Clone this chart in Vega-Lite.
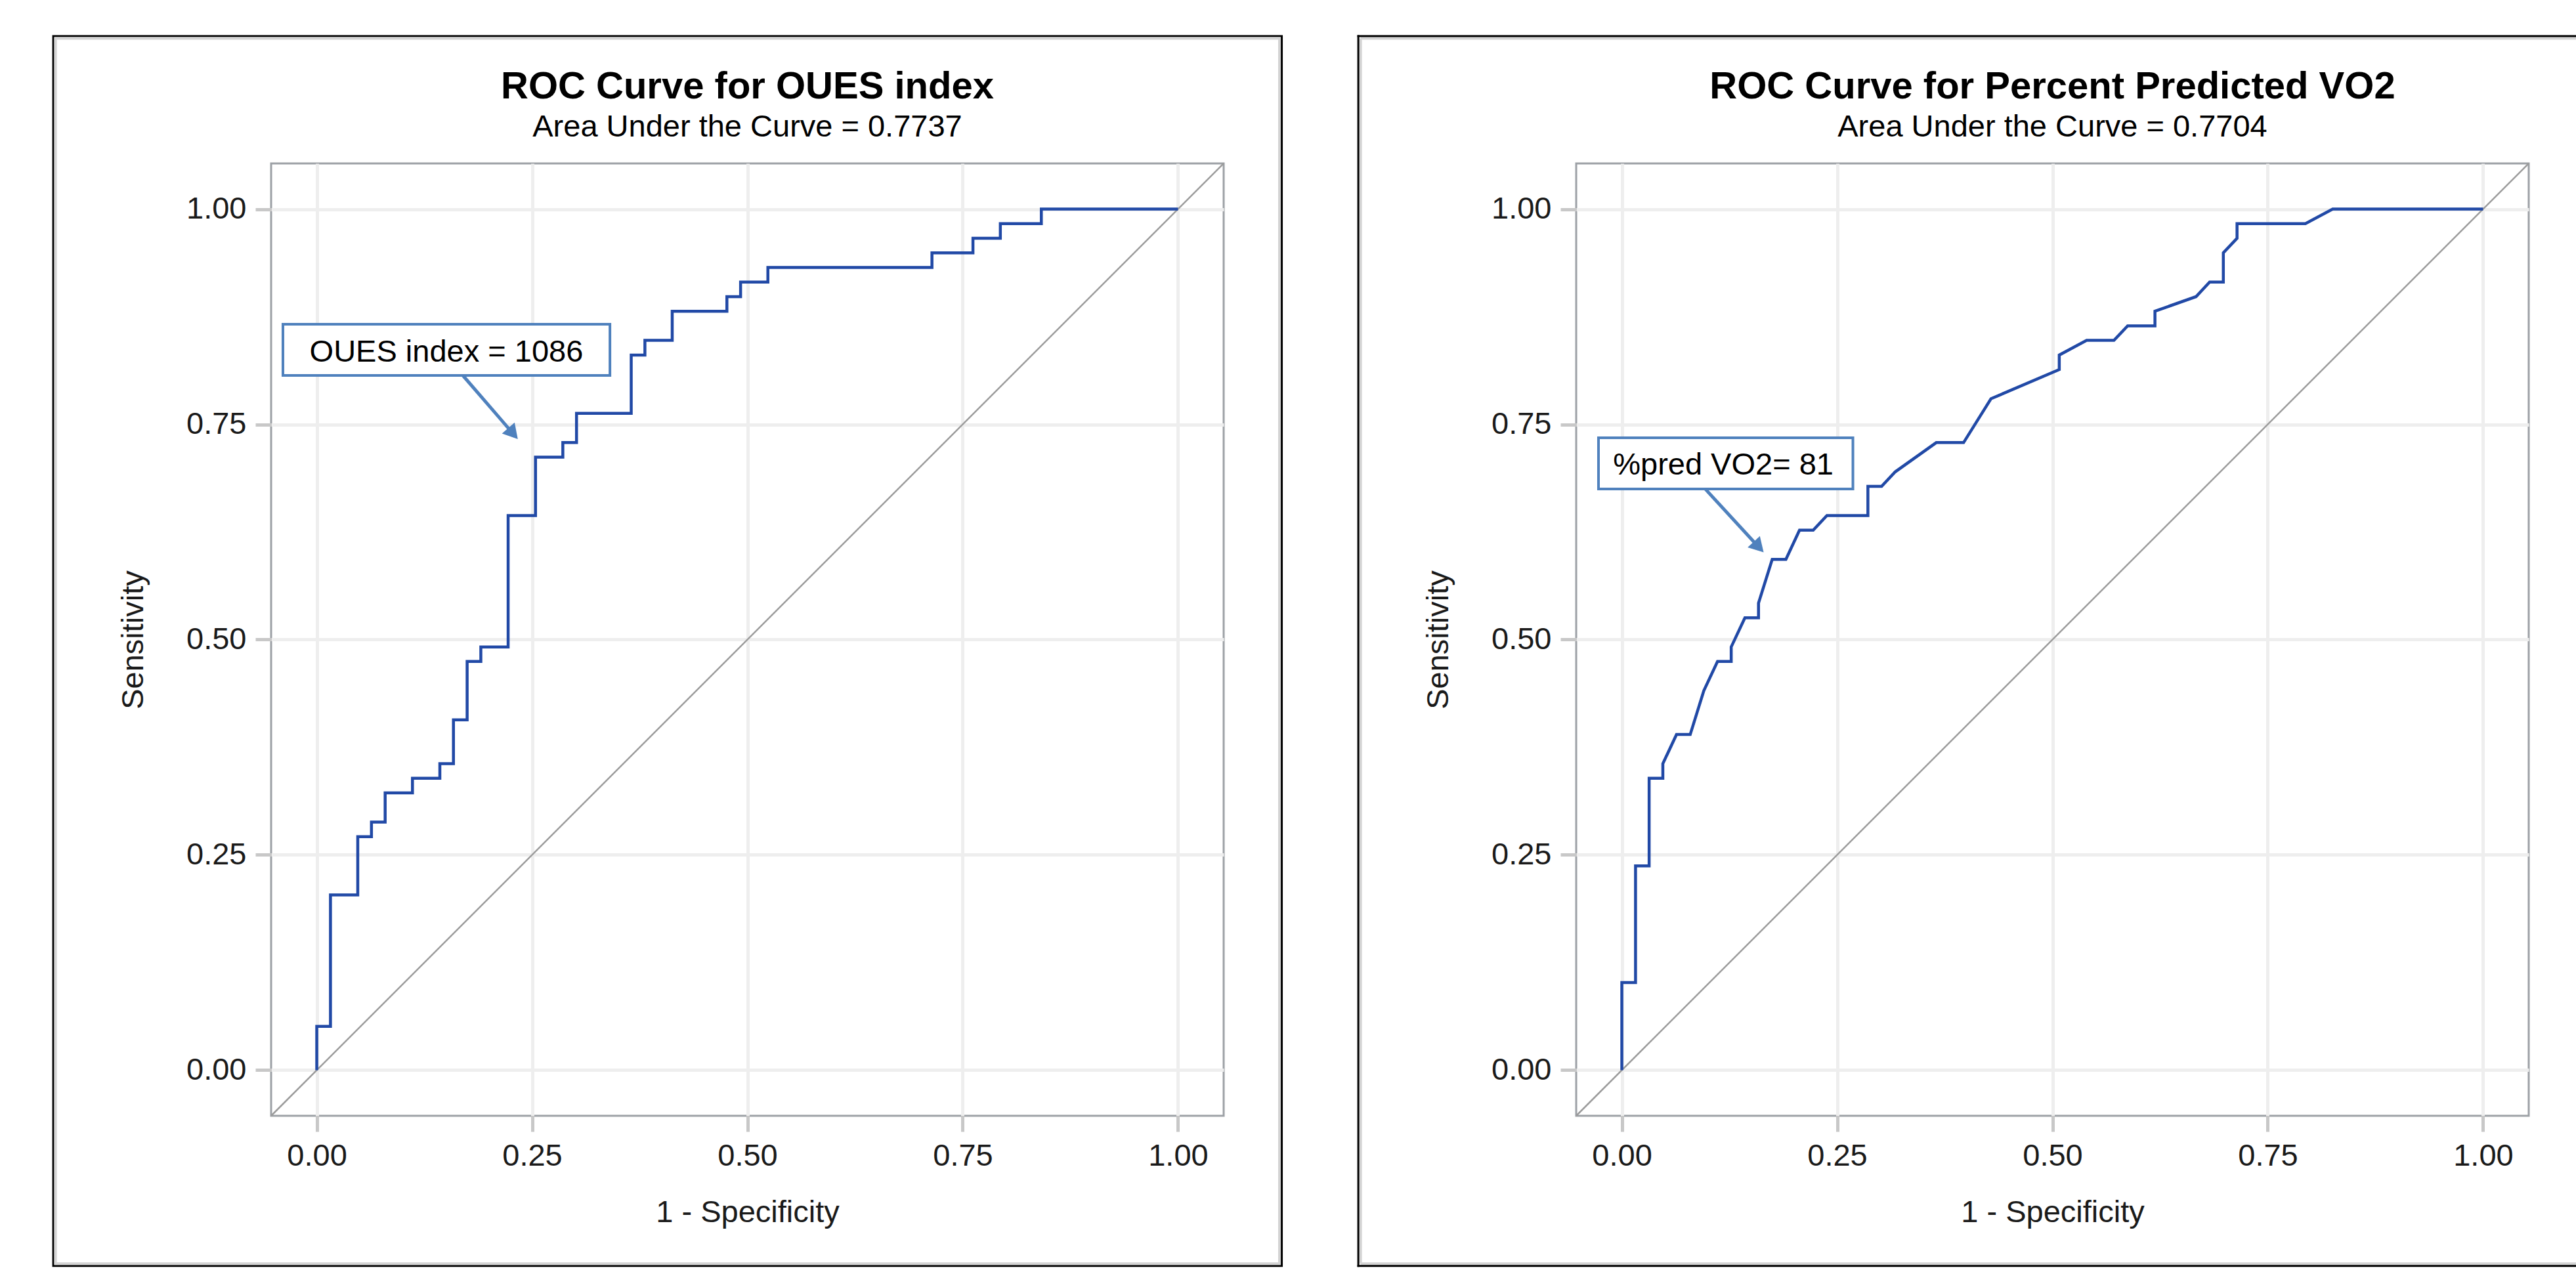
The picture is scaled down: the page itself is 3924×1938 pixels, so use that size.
{
  "$schema": "https://vega.github.io/schema/vega-lite/v6.json",
  "background": "white",
  "padding": {"left": 78, "top": 51, "right": 0, "bottom": 0},
  "spacing": 109,
  "datasets": {
    "single": [{"k": 1}],
    "oues": [{"fpr":0,"sens":0},{"fpr":0,"sens":0.0508},{"fpr":0.0159,"sens":0.0508},{"fpr":0.0159,"sens":0.2034},{"fpr":0.0476,"sens":0.2034},{"fpr":0.0476,"sens":0.2712},{"fpr":0.0635,"sens":0.2712},{"fpr":0.0635,"sens":0.2881},{"fpr":0.0794,"sens":0.2881},{"fpr":0.0794,"sens":0.322},{"fpr":0.1111,"sens":0.322},{"fpr":0.1111,"sens":0.339},{"fpr":0.1429,"sens":0.339},{"fpr":0.1429,"sens":0.3559},{"fpr":0.1587,"sens":0.3559},{"fpr":0.1587,"sens":0.4068},{"fpr":0.1746,"sens":0.4068},{"fpr":0.1746,"sens":0.4746},{"fpr":0.1905,"sens":0.4746},{"fpr":0.1905,"sens":0.4915},{"fpr":0.2222,"sens":0.4915},{"fpr":0.2222,"sens":0.6441},{"fpr":0.254,"sens":0.6441},{"fpr":0.254,"sens":0.7119},{"fpr":0.2857,"sens":0.7119},{"fpr":0.2857,"sens":0.7288},{"fpr":0.3016,"sens":0.7288},{"fpr":0.3016,"sens":0.7627},{"fpr":0.3651,"sens":0.7627},{"fpr":0.3651,"sens":0.8305},{"fpr":0.381,"sens":0.8305},{"fpr":0.381,"sens":0.8475},{"fpr":0.4127,"sens":0.8475},{"fpr":0.4127,"sens":0.8814},{"fpr":0.4762,"sens":0.8814},{"fpr":0.4762,"sens":0.8983},{"fpr":0.4921,"sens":0.8983},{"fpr":0.4921,"sens":0.9153},{"fpr":0.5238,"sens":0.9153},{"fpr":0.5238,"sens":0.9322},{"fpr":0.7143,"sens":0.9322},{"fpr":0.7143,"sens":0.9492},{"fpr":0.7619,"sens":0.9492},{"fpr":0.7619,"sens":0.9661},{"fpr":0.7937,"sens":0.9661},{"fpr":0.7937,"sens":0.9831},{"fpr":0.8413,"sens":0.9831},{"fpr":0.8413,"sens":1},{"fpr":1,"sens":1}],
    "vo2": [{"fpr":0,"sens":0},{"fpr":0,"sens":0.1017},{"fpr":0.0159,"sens":0.1017},{"fpr":0.0159,"sens":0.2373},{"fpr":0.0317,"sens":0.2373},{"fpr":0.0317,"sens":0.339},{"fpr":0.0476,"sens":0.339},{"fpr":0.0476,"sens":0.3559},{"fpr":0.0635,"sens":0.3898},{"fpr":0.0794,"sens":0.3898},{"fpr":0.0952,"sens":0.4407},{"fpr":0.1111,"sens":0.4746},{"fpr":0.127,"sens":0.4746},{"fpr":0.127,"sens":0.4915},{"fpr":0.1429,"sens":0.5254},{"fpr":0.1587,"sens":0.5254},{"fpr":0.1587,"sens":0.5424},{"fpr":0.1746,"sens":0.5932},{"fpr":0.1905,"sens":0.5932},{"fpr":0.2063,"sens":0.6271},{"fpr":0.2222,"sens":0.6271},{"fpr":0.2381,"sens":0.6441},{"fpr":0.2857,"sens":0.6441},{"fpr":0.2857,"sens":0.678},{"fpr":0.3016,"sens":0.678},{"fpr":0.3175,"sens":0.6949},{"fpr":0.3651,"sens":0.7288},{"fpr":0.3968,"sens":0.7288},{"fpr":0.4286,"sens":0.7797},{"fpr":0.5079,"sens":0.8136},{"fpr":0.5079,"sens":0.8305},{"fpr":0.5397,"sens":0.8475},{"fpr":0.5714,"sens":0.8475},{"fpr":0.5873,"sens":0.8644},{"fpr":0.619,"sens":0.8644},{"fpr":0.619,"sens":0.8814},{"fpr":0.6667,"sens":0.8983},{"fpr":0.6825,"sens":0.9153},{"fpr":0.6984,"sens":0.9153},{"fpr":0.6984,"sens":0.9492},{"fpr":0.7143,"sens":0.9661},{"fpr":0.7143,"sens":0.9831},{"fpr":0.7937,"sens":0.9831},{"fpr":0.8254,"sens":1},{"fpr":1,"sens":1}]
  },
  "hconcat": [
    {
      "width": 1451,
      "height": 1451,
      "title": {"text": "ROC Curve for OUES index", "subtitle": "Area Under the Curve = 0.7737"},
      "layer": [
        {"data": {"name": "single"}, "mark": {"type": "rect", "filled": false, "color": "#000000", "strokeWidth": 3}, "encoding": {"x": {"datum": -0.306, "type": "quantitative"}, "x2": {"datum": 1.1205}, "y": {"datum": -0.2273, "type": "quantitative"}, "y2": {"datum": 1.2009}}},
        {"data": {"name": "single"}, "mark": {"type": "rect", "filled": false, "color": "#d4d4d4", "strokeWidth": 4}, "encoding": {"x": {"datum": -0.3033, "type": "quantitative"}, "x2": {"datum": 1.1178}, "y": {"datum": -0.2246, "type": "quantitative"}, "y2": {"datum": 1.1982}}},
        {"data": {"name": "single"}, "mark": {"type": "rule", "color": "#9c9c9c", "strokeWidth": 2.5}, "encoding": {"x": {"datum": -0.053, "type": "quantitative"}, "y": {"datum": -0.053, "type": "quantitative"}, "x2": {"datum": 1.053}, "y2": {"datum": 1.053}}},
        {"data": {"name": "oues"}, "mark": {"type": "line", "color": "#2149a6", "strokeWidth": 4.5, "interpolate": "linear"},
         "encoding": {
           "x": {"field": "fpr", "type": "quantitative", "title": "1 - Specificity", "scale": {"domain": [-0.053, 1.053], "nice": false, "zero": false}, "axis": {"values": [0, 0.25, 0.5, 0.75, 1], "format": ".2f", "titlePadding": 40}},
           "y": {"field": "sens", "type": "quantitative", "title": "Sensitivity", "scale": {"domain": [-0.053, 1.053], "nice": false, "zero": false}, "axis": {"values": [0, 0.25, 0.5, 0.75, 1], "format": ".2f", "titlePadding": 56}},
           "order": {"value": null}
         }},
        {"data": {"name": "single"}, "mark": {"type": "rule", "color": "#4f81bd", "strokeWidth": 5}, "encoding": {"x": {"datum": 0.1696, "type": "quantitative"}, "y": {"datum": 0.8068, "type": "quantitative"}, "x2": {"datum": 0.2279}, "y2": {"datum": 0.7393}}},
        {"data": {"name": "single"}, "mark": {"type": "point", "shape": "triangle-up", "filled": true, "color": "#4f81bd", "size": 650, "angle": 139, "opacity": 1}, "encoding": {"x": {"datum": 0.2279, "type": "quantitative"}, "y": {"datum": 0.7393, "type": "quantitative"}}},
        {"data": {"name": "single"}, "mark": {"type": "rect", "fill": "white", "stroke": "#4f81bd", "strokeWidth": 4}, "encoding": {"x": {"datum": -0.0393, "type": "quantitative"}, "x2": {"datum": 0.3404}, "y": {"datum": 0.8068, "type": "quantitative"}, "y2": {"datum": 0.8663}}},
        {"data": {"name": "single"}, "mark": {"type": "text", "text": "OUES index = 1086", "font": "Liberation Sans", "fontSize": 47, "color": "#000000", "align": "center", "baseline": "middle"}, "encoding": {"x": {"datum": 0.1505, "type": "quantitative"}, "y": {"datum": 0.8337, "type": "quantitative"}}}
      ]
    },
    {
      "width": 1451,
      "height": 1451,
      "title": {"text": "ROC Curve for Percent Predicted VO2", "subtitle": "Area Under the Curve = 0.7704"},
      "layer": [
        {"data": {"name": "single"}, "mark": {"type": "rule", "color": "#d4d4d4", "strokeWidth": 4}, "encoding": {"x": {"datum": -0.3033, "type": "quantitative"}, "x2": {"datum": 1.1095}, "y": {"datum": 1.1982, "type": "quantitative"}}},
        {"data": {"name": "single"}, "mark": {"type": "rule", "color": "#d4d4d4", "strokeWidth": 4}, "encoding": {"x": {"datum": -0.3033, "type": "quantitative"}, "x2": {"datum": 1.1095}, "y": {"datum": -0.2246, "type": "quantitative"}}},
        {"data": {"name": "single"}, "mark": {"type": "rule", "color": "#d4d4d4", "strokeWidth": 4}, "encoding": {"x": {"datum": -0.3033, "type": "quantitative"}, "y": {"datum": -0.2246, "type": "quantitative"}, "y2": {"datum": 1.1982}}},
        {"data": {"name": "single"}, "mark": {"type": "rule", "color": "#000000", "strokeWidth": 3, "strokeCap": "square"}, "encoding": {"x": {"datum": -0.306, "type": "quantitative"}, "x2": {"datum": 1.1085}, "y": {"datum": 1.2009, "type": "quantitative"}}},
        {"data": {"name": "single"}, "mark": {"type": "rule", "color": "#000000", "strokeWidth": 3, "strokeCap": "square"}, "encoding": {"x": {"datum": -0.306, "type": "quantitative"}, "x2": {"datum": 1.1085}, "y": {"datum": -0.2273, "type": "quantitative"}}},
        {"data": {"name": "single"}, "mark": {"type": "rule", "color": "#000000", "strokeWidth": 3, "strokeCap": "square"}, "encoding": {"x": {"datum": -0.306, "type": "quantitative"}, "y": {"datum": -0.2273, "type": "quantitative"}, "y2": {"datum": 1.2009}}},
        {"data": {"name": "single"}, "mark": {"type": "rule", "color": "#9c9c9c", "strokeWidth": 2.5}, "encoding": {"x": {"datum": -0.053, "type": "quantitative"}, "y": {"datum": -0.053, "type": "quantitative"}, "x2": {"datum": 1.053}, "y2": {"datum": 1.053}}},
        {"data": {"name": "vo2"}, "mark": {"type": "line", "color": "#2149a6", "strokeWidth": 4.5, "interpolate": "linear"},
         "encoding": {
           "x": {"field": "fpr", "type": "quantitative", "title": "1 - Specificity", "scale": {"domain": [-0.053, 1.053], "nice": false, "zero": false}, "axis": {"values": [0, 0.25, 0.5, 0.75, 1], "format": ".2f", "titlePadding": 40}},
           "y": {"field": "sens", "type": "quantitative", "title": "Sensitivity", "scale": {"domain": [-0.053, 1.053], "nice": false, "zero": false}, "axis": {"values": [0, 0.25, 0.5, 0.75, 1], "format": ".2f", "titlePadding": 56}},
           "order": {"value": null}
         }},
        {"data": {"name": "single"}, "mark": {"type": "rule", "color": "#4f81bd", "strokeWidth": 5}, "encoding": {"x": {"datum": 0.0968, "type": "quantitative"}, "y": {"datum": 0.675, "type": "quantitative"}, "x2": {"datum": 0.1589}, "y2": {"datum": 0.6075}}},
        {"data": {"name": "single"}, "mark": {"type": "point", "shape": "triangle-up", "filled": true, "color": "#4f81bd", "size": 650, "angle": 137, "opacity": 1}, "encoding": {"x": {"datum": 0.1589, "type": "quantitative"}, "y": {"datum": 0.6075, "type": "quantitative"}}},
        {"data": {"name": "single"}, "mark": {"type": "rect", "fill": "white", "stroke": "#4f81bd", "strokeWidth": 4}, "encoding": {"x": {"datum": -0.0271, "type": "quantitative"}, "x2": {"datum": 0.2683}, "y": {"datum": 0.675, "type": "quantitative"}, "y2": {"datum": 0.7344}}},
        {"data": {"name": "single"}, "mark": {"type": "text", "text": "%pred VO2= 81", "font": "Liberation Sans", "fontSize": 47, "color": "#000000", "align": "center", "baseline": "middle"}, "encoding": {"x": {"datum": 0.1178, "type": "quantitative"}, "y": {"datum": 0.7026, "type": "quantitative"}}}
      ]
    }
  ],
  "config": {
    "font": "Liberation Sans",
    "view": {"stroke": "#9da1a6", "strokeWidth": 3},
    "axis": {
      "labelFont": "Liberation Sans", "labelFontSize": 47, "labelColor": "#1a1a1a", "labelPadding": 14, "labelFlush": false, "labelOverlap": false,
      "titleFont": "Liberation Sans", "titleFontSize": 47, "titleFontWeight": "normal", "titleColor": "#1a1a1a",
      "tickColor": "#c8c8c8", "tickWidth": 5, "tickSize": 24,
      "grid": true, "gridColor": "#eeeeee", "gridWidth": 5,
      "domain": false
    },
    "title": {
      "font": "Liberation Sans", "fontSize": 58, "fontWeight": "bold", "color": "#000000",
      "subtitleFont": "Liberation Sans", "subtitleFontSize": 47, "subtitleColor": "#000000",
      "subtitlePadding": 9, "offset": -164, "anchor": "middle", "frame": "group"
    }
  }
}
